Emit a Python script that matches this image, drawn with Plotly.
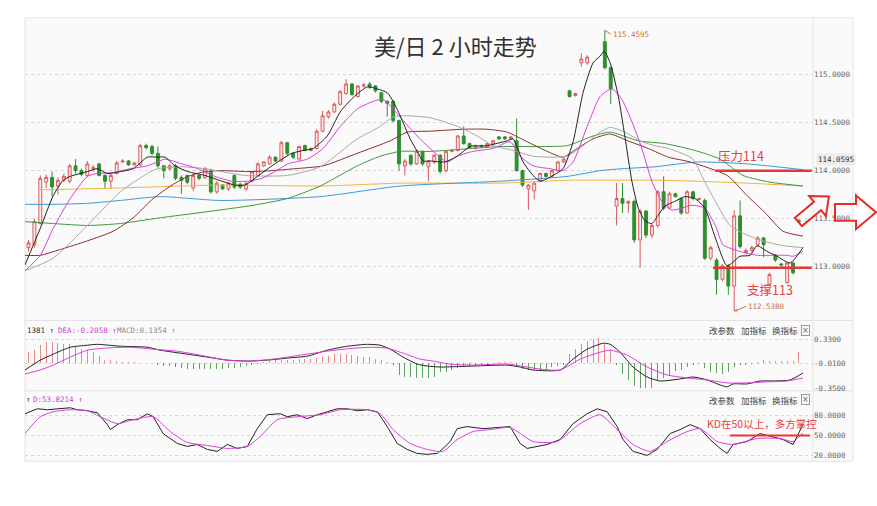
import math
import plotly.graph_objects as go

W, H = 877, 506

# ---------------- candle data (index, open, high, low, close) ----------------
c_idx = list(range(0, 96)) + list(range(98, 132))
c_open = [113.20, 113.23, 113.45, 113.88, 113.93, 113.84, 113.90, 113.89, 114.05, 114.00,
          113.95, 114.02, 114.07, 113.95, 113.89, 113.97, 114.09, 114.10, 114.06, 114.06,
          114.26, 114.25, 114.18, 114.05, 114.02, 114.05, 113.93, 113.95, 113.82, 113.95,
          113.93, 113.99, 113.78, 113.85, 113.81, 113.95, 113.86, 113.81, 113.89, 113.95,
          114.05, 114.07, 114.14, 114.10, 114.29, 114.18, 114.12, 114.26, 114.21, 114.23,
          114.41, 114.56, 114.61, 114.69, 114.80, 114.90, 114.77, 114.88, 114.90, 114.88,
          114.81, 114.72, 114.72, 114.52, 114.05, 114.16, 114.07, 114.20, 114.04, 114.09,
          114.16, 114.00, 114.20, 114.21, 114.36, 114.28, 114.23, 114.26, 114.25, 114.28,
          114.35, 114.35, 114.33, 114.31, 114.00, 113.81, 113.79, 113.90, 113.97, 113.94,
          114.00, 114.09, 114.83, 114.78, 115.12, 115.12,
          115.34, 115.07, 113.63, 113.71, 113.66, 113.68, 113.28, 113.58, 113.33, 113.43,
          113.78, 113.61, 113.76, 113.71, 113.56, 113.78, 113.70, 113.69, 113.09, 113.07,
          112.87, 113.01, 112.80, 113.53, 113.15, 113.17, 113.23, 113.30, 112.82, 113.12,
          113.03, 112.84, 113.04, 113.48]
c_high = [113.28, 113.50, 113.95, 113.96, 113.99, 113.93, 113.97, 114.07, 114.12, 114.02,
          114.10, 114.06, 114.08, 113.96, 113.97, 114.10, 114.12, 114.11, 114.09, 114.28,
          114.28, 114.27, 114.25, 114.06, 114.07, 114.07, 113.95, 113.96, 113.97, 113.96,
          114.04, 114.02, 113.89, 113.86, 113.88, 113.96, 113.87, 113.88, 114.00, 114.09,
          114.10, 114.16, 114.15, 114.31, 114.30, 114.19, 114.26, 114.27, 114.24, 114.43,
          114.62, 114.63, 114.71, 114.84, 114.95, 114.91, 114.89, 114.91, 114.92, 114.89,
          114.82, 114.73, 114.73, 114.53, 114.12, 114.17, 114.22, 114.21, 114.11, 114.17,
          114.17, 114.21, 114.22, 114.37, 114.46, 114.29, 114.27, 114.27, 114.29, 114.32,
          114.36, 114.36, 114.36, 114.54, 114.01, 113.86, 113.88, 113.98, 113.98, 114.01,
          114.10, 114.13, 114.84, 114.81, 115.22, 115.20,
          115.4595, 115.08, 113.87, 113.87, 113.69, 113.70, 113.60, 113.59, 113.45, 113.80,
          113.94, 113.78, 113.77, 113.72, 113.80, 113.79, 113.72, 113.71, 113.22, 113.09,
          113.03, 113.03, 113.59, 113.69, 113.19, 113.22, 113.32, 113.31, 112.94, 113.13,
          113.04, 113.05, 113.05, 113.50]
c_low = [113.16, 113.20, 113.44, 113.82, 113.73, 113.75, 113.88, 113.87, 113.97, 113.94,
         113.93, 113.99, 113.94, 113.81, 113.81, 113.96, 114.08, 114.05, 114.05, 114.04,
         114.22, 114.16, 114.02, 113.92, 114.00, 113.90, 113.76, 113.86, 113.79, 113.90,
         113.91, 113.76, 113.76, 113.80, 113.79, 113.81, 113.81, 113.79, 113.88, 113.94,
         114.04, 114.06, 114.09, 114.09, 114.16, 114.12, 114.10, 114.20, 114.20, 114.22,
         114.40, 114.54, 114.60, 114.68, 114.79, 114.78, 114.76, 114.86, 114.85, 114.81,
         114.70, 114.56, 114.50, 114.00, 113.95, 114.05, 114.06, 114.05, 113.89, 114.07,
         113.97, 113.98, 114.19, 114.20, 114.27, 114.23, 114.22, 114.24, 114.24, 114.27,
         114.32, 114.32, 114.32, 113.99, 113.83, 113.59, 113.70, 113.88, 113.93, 113.93,
         113.99, 114.08, 114.76, 114.77, 115.08, 115.10,
         115.05, 114.69, 113.43, 113.56, 113.56, 113.25, 112.99, 113.30, 113.30, 113.41,
         113.59, 113.60, 113.72, 113.54, 113.55, 113.69, 113.69, 113.07, 113.07, 112.71,
         112.85, 112.71, 112.538, 113.19, 113.13, 113.15, 113.21, 113.10, 112.80, 113.05,
         113.00, 112.82, 112.92, 113.46]
c_close = [113.25, 113.47, 113.92, 113.93, 113.83, 113.90, 113.94, 114.05, 114.00, 113.96,
           114.07, 114.03, 113.95, 113.89, 113.95, 114.08, 114.10, 114.06, 114.08, 114.26,
           114.24, 114.18, 114.05, 114.00, 114.05, 113.92, 113.90, 113.88, 113.95, 113.92,
           114.02, 113.78, 113.87, 113.81, 113.87, 113.83, 113.83, 113.87, 113.99, 114.07,
           114.09, 114.14, 114.10, 114.29, 114.18, 114.14, 114.25, 114.21, 114.23, 114.41,
           114.57, 114.61, 114.69, 114.82, 114.90, 114.79, 114.88, 114.89, 114.87, 114.83,
           114.72, 114.70, 114.52, 114.07, 114.10, 114.07, 114.20, 114.07, 114.10, 114.16,
           113.99, 114.20, 114.21, 114.36, 114.28, 114.24, 114.26, 114.25, 114.28, 114.31,
           114.33, 114.33, 114.35, 114.00, 113.85, 113.85, 113.87, 113.97, 113.94, 114.00,
           114.09, 114.12, 114.77, 114.80, 115.16, 115.18,
           115.07, 114.85, 113.71, 113.66, 113.68, 113.28, 113.58, 113.33, 113.43, 113.78,
           113.61, 113.76, 113.73, 113.56, 113.78, 113.71, 113.71, 113.09, 113.20, 112.87,
           113.01, 112.80, 113.53, 113.21, 113.17, 113.20, 113.30, 113.23, 112.92, 113.07,
           113.02, 113.04, 112.94, 113.47]

# ---------------- moving averages (read at sample indices) ----------------
ma5_idx = [-0.6, 2.0, 4.2, 5.9, 7.1, 10.0, 11.7, 13.4, 15.6, 17.8, 20.2, 21.9, 23.2, 24.9, 27.1,
           30.0, 32.9, 35.1, 36.8, 38.5, 40.7, 43.1, 44.8, 46.7, 48.4, 50.8, 53.0, 55.2, 57.6,
           59.3, 61.0, 62.0, 63.2, 64.9, 66.1, 67.1, 68.3, 70.8, 72.9, 75.1, 78.0, 81.4, 82.4,
           84.1, 85.8, 87.0, 89.2, 90.9, 92.6, 94.3, 96.0, 97.2, 97.9, 98.9, 100.3, 101.4,
           102.6, 103.7, 104.8, 106.0, 107.0, 108.2, 109.9, 111.6, 113.3, 115.0, 116.8, 118.8,
           121.0, 122.7, 123.9, 125.6, 127.3, 129.5, 131.7]
ma5_val = [113.02, 113.40, 113.74, 113.90, 113.94, 113.99, 114.02, 113.97, 113.99, 114.02,
           114.14, 114.14, 114.14, 114.05, 113.99, 113.95, 113.89, 113.85, 113.85, 113.92,
           114.02, 114.12, 114.18, 114.21, 114.23, 114.36, 114.61, 114.76, 114.87, 114.85,
           114.81, 114.72, 114.57, 114.33, 114.20, 114.10, 114.10, 114.09, 114.15, 114.25,
           114.26, 114.31, 114.33, 114.09, 113.95, 113.89, 113.95, 114.02, 114.30, 114.81,
           115.12, 115.19, 115.24, 115.12, 114.77, 114.36, 113.89, 113.61, 113.48, 113.45,
           113.53, 113.63, 113.68, 113.73, 113.71, 113.61, 113.30, 113.01, 113.11, 113.12,
           113.22, 113.16, 113.11, 113.04, 113.20]

ma10_idx = [-0.6, 2.0, 4.2, 7.1, 10.0, 11.7, 14.4, 17.3, 20.2, 21.9, 23.2, 26.1, 28.8, 31.7,
            34.6, 37.3, 39.7, 41.9, 44.1, 47.4, 50.1, 53.0, 55.9, 58.6, 60.3, 62.0, 63.7, 66.1,
            68.3, 71.2, 72.9, 75.6, 79.0, 81.9, 83.6, 85.8, 88.7, 90.9, 92.6, 95.0, 97.2, 99.2,
            100.9, 102.6, 104.3, 106.0, 107.7, 109.4, 111.1, 112.8, 115.0, 116.8, 118.1, 121.0,
            123.9, 126.6, 129.0, 130.0, 131.7]
ma10_val = [112.96, 113.12, 113.40, 113.71, 113.94, 113.97, 113.98, 114.02, 114.05, 114.09,
            114.12, 114.07, 114.02, 113.94, 113.89, 113.89, 113.92, 113.99, 114.07, 114.12,
            114.23, 114.46, 114.64, 114.72, 114.74, 114.64, 114.52, 114.36, 114.23, 114.09,
            114.15, 114.20, 114.23, 114.30, 114.15, 114.05, 114.02, 114.00, 114.09, 114.46,
            114.77, 114.85, 114.74, 114.51, 114.23, 113.89, 113.68, 113.59, 113.61, 113.64,
            113.61, 113.43, 113.23, 113.16, 113.12, 113.12, 113.12, 113.11, 113.16]

ma20_idx = [-0.6, 4.2, 10.0, 15.6, 20.2, 21.9, 26.1, 30.0, 36.8, 44.0, 49.6, 55.9, 59.8, 62.0,
            64.4, 68.3, 72.9, 76.3, 79.0, 82.4, 85.8, 89.2, 91.6, 94.3, 97.2, 98.9, 101.4, 104.3,
            106.5, 108.8, 111.1, 113.0, 114.7, 116.8, 119.3, 122.2, 124.9, 128.3, 131.7]
ma20_val = [112.96, 113.09, 113.43, 113.78, 113.97, 114.02, 114.04, 114.02, 113.95, 113.95,
            114.04, 114.33, 114.46, 114.56, 114.57, 114.55, 114.46, 114.36, 114.26, 114.21,
            114.15, 114.14, 114.15, 114.26, 114.40, 114.45, 114.40, 114.30, 114.26, 114.23,
            114.18, 114.12, 113.92, 113.68, 113.43, 113.33, 113.27, 113.22, 113.20]

ma30_idx = [-0.6, 2.0, 5.4, 10.0, 14.4, 17.8, 21.2, 24.4, 27.1, 30.0, 32.9, 37.3, 41.4, 45.3,
            50.1, 55.9, 61.5, 64.4, 68.3, 73.9, 78.0, 81.4, 84.8, 88.2, 90.9, 93.3, 96.0, 98.9,
            101.9, 105.4, 108.8, 112.5, 118.8, 122.2, 125.3, 128.3, 131.7]
ma30_val = [113.12, 113.12, 113.18, 113.27, 113.37, 113.51, 113.71, 113.85, 113.94, 113.99,
            114.00, 113.99, 114.00, 114.02, 114.05, 114.18, 114.31, 114.40, 114.41, 114.43,
            114.43, 114.40, 114.30, 114.20, 114.14, 114.23, 114.33, 114.38, 114.31, 114.23,
            114.14, 114.09, 113.95, 113.74, 113.56, 113.37, 113.32]

ma60_idx = [-0.6, 4.2, 10.0, 15.6, 22.4, 30.0, 38.2, 44.0, 49.6, 55.9, 59.8, 63.2, 68.3, 80.2,
            85.8, 91.6, 96.0, 98.9, 103.7, 108.3, 113.3, 117.6, 121.5, 126.1, 131.7]
ma60_val = [113.47, 113.45, 113.43, 113.45, 113.51, 113.57, 113.64, 113.71, 113.84, 114.05,
            114.15, 114.20, 114.20, 114.25, 114.25, 114.26, 114.36, 114.40, 114.31, 114.28,
            114.21, 114.12, 113.95, 113.88, 113.84]

ma120_idx = [-0.6, 4.2, 10.0, 15.6, 22.4, 32.6, 49.6, 63.2, 80.2, 91.6, 97.2, 100.9, 106.5,
             113.7, 122.2, 131.7]
ma120_val = [113.65, 113.65, 113.66, 113.69, 113.73, 113.69, 113.73, 113.84, 113.89, 113.94,
             114.00, 114.02, 114.04, 114.09, 114.07, 114.01]

ma250_idx = [2.0, 15.6, 32.6, 49.6, 63.2, 80.2, 91.6, 97.2, 106.5, 113.7, 122.2, 131.7]
ma250_val = [113.80, 113.82, 113.85, 113.84, 113.87, 113.87, 113.90, 113.90, 113.90, 113.89,
             113.87, 113.84]

# ---------------- MACD ----------------
macd_hist = [0.15, 0.18, 0.25, 0.29, 0.29, 0.275, 0.265, 0.26, 0.235, 0.20,
             0.18, 0.15, 0.10, 0.045, 0.04, 0.025, 0.015, 0.012, 0.01, 0.008,
             0.005, 0.002, -0.025, -0.04, -0.045, -0.06, -0.07, -0.08, -0.08, -0.08,
             -0.085, -0.085, -0.085, -0.08, -0.07, -0.065, -0.06, -0.04, -0.025, -0.01,
             0.02, 0.03, 0.04, 0.04, 0.04, 0.045, 0.05, 0.055, 0.06, 0.075,
             0.09, 0.105, 0.12, 0.13, 0.125, 0.115, 0.10, 0.09, 0.08, 0.06,
             0.04, 0.02, -0.03, -0.17, -0.19, -0.19, -0.21, -0.21, -0.21, -0.19,
             -0.13, -0.12, -0.10, -0.07, -0.05, -0.04, -0.035, -0.02, -0.01, -0.005,
             0.01, 0.02, 0.02, -0.055, -0.085, -0.09, -0.09, -0.09, -0.08, -0.055,
             -0.04, -0.02, 0.12, 0.19, 0.26, 0.30, 0.34, 0.35, 0.27, 0.19,
             -0.02, -0.155, -0.23, -0.32, -0.34, -0.35, -0.34, -0.23, -0.21, -0.16,
             -0.11, -0.09, -0.05, -0.03, -0.01, -0.07, -0.12, -0.14, -0.145, -0.13,
             -0.05, -0.03, -0.02, -0.01, 0.01, 0.045, 0.025, 0.025, 0.025, 0.025,
             0.035, 0.155]
dif_idx = [-0.6, 2.0, 4.2, 7.1, 10.0, 11.7, 15.6, 20.2, 22.4, 27.0, 30.4, 33.8, 37.2, 40.6,
           44.0, 47.4, 50.8, 54.2, 57.6, 59.8, 61.5, 63.7, 66.1, 67.8, 70.0, 72.5, 75.6, 81.4,
           83.6, 85.8, 90.4, 92.6, 95.0, 97.7, 98.9, 100.6, 102.8, 105.2, 107.4, 110.8, 113.0,
           115.4, 117.6, 118.8, 119.8, 122.2, 124.4, 126.6, 129.5, 131.7]
dif_val = [-0.096, 0.041, 0.124, 0.22, 0.248, 0.26, 0.234, 0.22, 0.179, 0.124, 0.083, 0.041,
           0.028, 0.041, 0.069, 0.096, 0.179, 0.234, 0.26, 0.248, 0.193, 0.083, -0.014, -0.04,
           -0.055, -0.05, -0.041, -0.028, -0.055, -0.096, -0.096, 0.055, 0.193, 0.275, 0.261,
           0.151, -0.055, -0.193, -0.248, -0.22, -0.193, -0.234, -0.303, -0.33, -0.289, -0.289,
           -0.248, -0.248, -0.234, -0.138]
dea_idx = [-0.6, 2.0, 4.2, 7.1, 10.0, 12.7, 17.3, 21.2, 25.3, 29.2, 33.8, 37.7, 41.6, 46.2,
           50.8, 55.2, 58.6, 61.0, 63.7, 66.6, 68.8, 71.7, 75.6, 81.4, 87.0, 90.4, 93.8, 97.2,
           98.9, 101.8, 105.2, 108.6, 112.0, 115.4, 118.8, 122.2, 125.6, 129.0, 131.7]
dea_val = [-0.151, -0.096, -0.028, 0.083, 0.179, 0.206, 0.22, 0.193, 0.165, 0.11, 0.041, 0.028,
           0.055, 0.11, 0.165, 0.206, 0.22, 0.206, 0.138, 0.055, 0.028, -0.014, -0.028, -0.014,
           -0.083, -0.096, 0.055, 0.151, 0.179, 0.11, -0.055, -0.165, -0.206, -0.234, -0.275,
           -0.275, -0.261, -0.248, -0.206]

# ---------------- KD ----------------
k_idx = [-0.6, 1.5, 3.2, 5.9, 7.1, 8.3, 10.0, 11.7, 13.4, 13.9, 15.1, 16.8, 18.5, 20.2, 21.2,
         22.9, 25.3, 27.0, 28.7, 30.4, 32.1, 33.8, 35.5, 37.2, 38.9, 40.6, 42.8, 44.0, 45.7,
         47.4, 49.1, 50.8, 52.5, 54.2, 55.9, 57.6, 59.3, 61.0, 62.7, 64.4, 66.1, 67.8, 69.5,
         70.5, 71.7, 72.9, 74.6, 77.3, 81.9, 83.6, 84.8, 88.2, 90.4, 92.6, 95.0, 96.7, 98.4,
         100.1, 101.1, 102.8, 105.2, 106.9, 109.1, 110.8, 112.5, 114.2, 115.9, 117.6, 118.8,
         119.8, 122.2, 124.4, 126.6, 128.3, 130.0, 131.2, 131.7]
k_val = [82.2, 89.5, 88.1, 89.5, 91.0, 88.1, 86.6, 83.7, 66.1, 58.8, 66.1, 73.4, 73.4, 82.2,
         77.8, 52.9, 38.3, 33.9, 36.8, 29.5, 26.6, 36.8, 31.0, 33.9, 60.2, 80.7, 82.2, 77.8,
         80.7, 74.9, 80.7, 85.1, 89.5, 89.5, 86.6, 88.1, 85.1, 63.2, 38.3, 29.5, 23.6, 22.2,
         23.6, 31.0, 41.2, 60.2, 63.2, 60.2, 63.2, 38.3, 31.0, 36.8, 44.1, 67.6, 82.2, 89.5,
         85.1, 63.2, 44.1, 26.6, 20.7, 29.5, 52.9, 58.8, 66.1, 60.2, 44.1, 31.0, 23.6, 36.8,
         41.2, 52.9, 48.5, 44.1, 36.8, 58.8, 66.1]
d_idx = [-0.6, 2.0, 4.2, 7.1, 10.0, 12.2, 15.1, 17.8, 21.2, 24.1, 27.0, 30.4, 33.8, 37.2,
         39.4, 42.3, 45.7, 49.6, 53.0, 57.6, 59.8, 62.0, 64.9, 67.8, 70.5, 72.9, 75.6, 78.5,
         81.9, 85.8, 89.9, 93.8, 97.2, 100.1, 102.8, 105.7, 108.6, 112.0, 114.2, 117.1, 119.8,
         123.9, 127.8, 130.0, 131.7]
d_val = [52.9, 77.8, 85.1, 88.1, 86.6, 77.8, 67.6, 73.4, 77.8, 55.9, 39.8, 35.4, 31.0, 33.9,
         48.5, 73.4, 77.8, 80.7, 88.1, 88.1, 82.2, 58.8, 38.3, 29.5, 26.6, 44.1, 55.9, 58.8,
         61.7, 41.2, 41.2, 67.6, 80.7, 58.8, 36.8, 26.6, 41.2, 55.9, 60.2, 41.2, 36.8, 45.6,
         45.6, 41.2, 53.8]

# ---------------- axis ticks ----------------
price_ticks = [113.0, 113.5, 114.0, 114.5, 115.0]
price_labels = ["113.0000", "113.5000", "114.0000", "114.5000", "115.0000"]
macd_ticks = [0.33, -0.01, -0.35]
macd_labels = ["0.3300", "-0.0100", "-0.3500"]
kd_ticks = [80, 50, 20]
kd_labels = ["80.0000", "50.0000", "20.0000"]

# ---------------- helpers ----------------
def px(x, y):
    return x / W, 1 - y / H

def path(points):
    s = ""
    for k, (x, y) in enumerate(points):
        X, Y = px(x, y)
        s += ("M" if k == 0 else "L") + f"{X:.5f},{Y:.5f} "
    return s + "Z"

def arrow(tx, ty, ang, L, sw, hw, hl):
    a = math.radians(ang)
    d = (math.cos(a), math.sin(a))
    n = (-math.sin(a), math.cos(a))
    loc = [(0, 0), (-hl, hw / 2), (-hl, sw / 2), (-L, sw / 2), (-L, -sw / 2), (-hl, -sw / 2), (-hl, -hw / 2)]
    return [(tx + u * d[0] + v * n[0], ty + u * d[1] + v * n[1]) for u, v in loc]

XL, XR = 25, 813
XRANGE = [-0.6, 133.4]
MONO = "DejaVu Sans Mono"
CJK = "Noto Sans CJK SC"

fig = go.Figure()

fig.add_trace(go.Candlestick(
    x=c_idx, open=c_open, high=c_high, low=c_low, close=c_close,
    increasing=dict(line=dict(color="#dc5a5a", width=1), fillcolor="#fbeaea"),
    decreasing=dict(line=dict(color="#2f8f2f", width=1), fillcolor="#2f8f2f"),
    whiskerwidth=0, showlegend=False, xaxis="x", yaxis="y"))

for xs, ys, col in [(ma250_idx, ma250_val, "#f0b43c"), (ma120_idx, ma120_val, "#3a9ad6"),
                    (ma60_idx, ma60_val, "#3c9a3c"), (ma30_idx, ma30_val, "#8e2f2f"),
                    (ma20_idx, ma20_val, "#a8a8a8"), (ma10_idx, ma10_val, "#dc3ddc"),
                    (ma5_idx, ma5_val, "#222222")]:
    fig.add_trace(go.Scatter(x=xs, y=ys, mode="lines", line=dict(color=col, width=1, shape="spline", smoothing=0.6),
                             showlegend=False, hoverinfo="skip", xaxis="x", yaxis="y"))

# MACD
fig.add_trace(go.Bar(x=list(range(len(macd_hist))), y=macd_hist, width=0.17,
                     marker=dict(color=["#e08c8c" if v >= 0 else "#5fa35f" for v in macd_hist], line=dict(width=0)),
                     showlegend=False, xaxis="x2", yaxis="y2"))
fig.add_trace(go.Scatter(x=dif_idx, y=dif_val, mode="lines", line=dict(color="#222", width=1, shape="spline", smoothing=0.6),
                         showlegend=False, xaxis="x2", yaxis="y2"))
fig.add_trace(go.Scatter(x=dea_idx, y=dea_val, mode="lines", line=dict(color="#dc3ddc", width=1, shape="spline", smoothing=0.6),
                         showlegend=False, xaxis="x2", yaxis="y2"))

# KD
fig.add_trace(go.Scatter(x=k_idx, y=k_val, mode="lines", line=dict(color="#222", width=1),
                         showlegend=False, xaxis="x3", yaxis="y3"))
fig.add_trace(go.Scatter(x=d_idx, y=d_val, mode="lines", line=dict(color="#dc3ddc", width=1, shape="spline", smoothing=0.6),
                         showlegend=False, xaxis="x3", yaxis="y3"))

xdom = [XL / W, XR / W]
axfont = dict(family=MONO, size=7.5, color="#666")
common_x = dict(domain=xdom, range=XRANGE, visible=False, fixedrange=True)
common_y = dict(side="right", showgrid=True, gridcolor="#d8d8d8", griddash="dot", gridwidth=1,
                zeroline=False, showline=False, ticks="", tickfont=axfont, fixedrange=True)

fig.update_layout(
    width=W, height=H, margin=dict(l=0, r=0, t=0, b=0),
    paper_bgcolor="white", plot_bgcolor="rgba(0,0,0,0)",
    xaxis=dict(**common_x, anchor="y", rangeslider=dict(visible=False)),
    xaxis2=dict(**common_x, anchor="y2"),
    xaxis3=dict(**common_x, anchor="y3"),
    yaxis=dict(**common_y, domain=[1 - 320 / H, 1 - 20 / H], range=[112.474, 115.567], anchor="x",
               tickvals=price_ticks, ticktext=price_labels),
    yaxis2=dict(**common_y, domain=[1 - 392 / H, 1 - 326 / H], range=[-0.358, 0.550], anchor="x2",
                tickvals=macd_ticks, ticktext=macd_labels),
    yaxis3=dict(**common_y, domain=[1 - 464 / H, 1 - 396 / H], range=[13.4, 113.0], anchor="x3",
                tickvals=kd_ticks, ticktext=kd_labels),
    bargap=0, showlegend=False, hovermode=False,
)

shapes = []
x0, y0 = px(25, 18); x1, y1 = px(853, 465)
shapes.append(dict(type="rect", xref="paper", yref="paper", x0=x0, y0=y1, x1=x1, y1=y0,
                   fillcolor="#fafafa", line=dict(color="#e3e3e3", width=1), layer="below"))
for yy in [323, 394]:
    a, b = px(25, yy); c, d = px(853, yy)
    shapes.append(dict(type="line", xref="paper", yref="paper", x0=a, y0=b, x1=c, y1=d,
                       line=dict(color="#e3e3e3", width=1), layer="below"))
a, b = px(XR, 18); c, d = px(XR, 465)
shapes.append(dict(type="line", xref="paper", yref="paper", x0=a, y0=b, x1=c, y1=d,
                   line=dict(color="#e3e3e3", width=1), layer="below"))
shapes.append(dict(type="line", xref="x", yref="y", x0=116.8, x1=133.2, y0=114.0, y1=114.0,
                   line=dict(color="#e83535", width=2.5)))
shapes.append(dict(type="line", xref="x", yref="y", x0=116.4, x1=133.2, y0=112.99, y1=112.99,
                   line=dict(color="#e83535", width=2.5)))
shapes.append(dict(type="line", xref="x3", yref="y3", x0=119.3, x1=132.9, y0=50, y1=50,
                   line=dict(color="#e83535", width=2)))
shapes.append(dict(type="path", xref="paper", yref="paper",
                   path=path(arrow(829, 198, -40, 40, 11, 26, 15)),
                   line=dict(color="#e82a2a", width=2), fillcolor="rgba(255,255,255,0)"))
shapes.append(dict(type="path", xref="paper", yref="paper",
                   path=path(arrow(876, 214, 0, 41, 17, 34, 20)),
                   line=dict(color="#e82a2a", width=2), fillcolor="rgba(255,255,255,0)"))
fig.update_layout(shapes=shapes)

ann = []
def text(x, y, s, size, color, family=CJK, xanchor="left", **kw):
    X, Y = px(x, y)
    ann.append(dict(xref="paper", yref="paper", x=X, y=Y, text=s, showarrow=False,
                    xanchor=xanchor, yanchor="middle", font=dict(family=family, size=size, color=color), **kw))

text(455, 45, "美/日 2 小时走势", 22, "#333", xanchor="center")
text(716, 157, "压力114", 12.5, "#e84040")
text(745, 292, "支撑113", 12.5, "#e84040")
text(705, 427, "KD在50以上，多方掌控", 10.5, "#e84040")
text(816, 161, "114.0595", 7.5, "#333", family=MONO, bgcolor="#ececec")
text(25, 333, "1381 ↑", 7.5, "#333", family=MONO)
text(56, 333, "DEA:-0.2058 ↑", 7.5, "#d63ad6", family=MONO)
text(115, 333, "MACD:0.1354 ↑", 7.5, "#888", family=MONO)
text(24, 403, "↑", 7.5, "#333", family=MONO)
text(31, 403, "D:53.8214 ↑", 7.5, "#d63ad6", family=MONO)
for yy in [333, 403]:
    text(707, yy, "改参数", 8.5, "#444")
    text(739, yy, "加指标", 8.5, "#444")
    text(770, yy, "换指标", 8.5, "#444")
    text(805, yy, "×", 8, "#666", family="DejaVu Sans", xanchor="center",
         bordercolor="#999", borderwidth=1, borderpad=0)
fig.update_layout(annotations=ann)

fig.add_annotation(x=98, y=115.4595, xref="x", yref="y", text="115.4595", showarrow=True,
                   ax=6, ay=4, arrowhead=0, arrowwidth=1, arrowcolor="#c8743a", xanchor="left",
                   font=dict(family=MONO, size=7.5, color="#c8743a"))
fig.add_annotation(x=120, y=112.538, xref="x", yref="y", text="112.5380", showarrow=True,
                   ax=12, ay=-5, arrowhead=2, arrowsize=0.6, arrowwidth=1, arrowcolor="#c8743a", xanchor="left",
                   font=dict(family=MONO, size=7.5, color="#c8743a"))

fig.write_html("out.html", config={"displayModeBar": False, "staticPlot": True},
               post_script="document.body.style.margin='0px';document.body.style.padding='0px';")
